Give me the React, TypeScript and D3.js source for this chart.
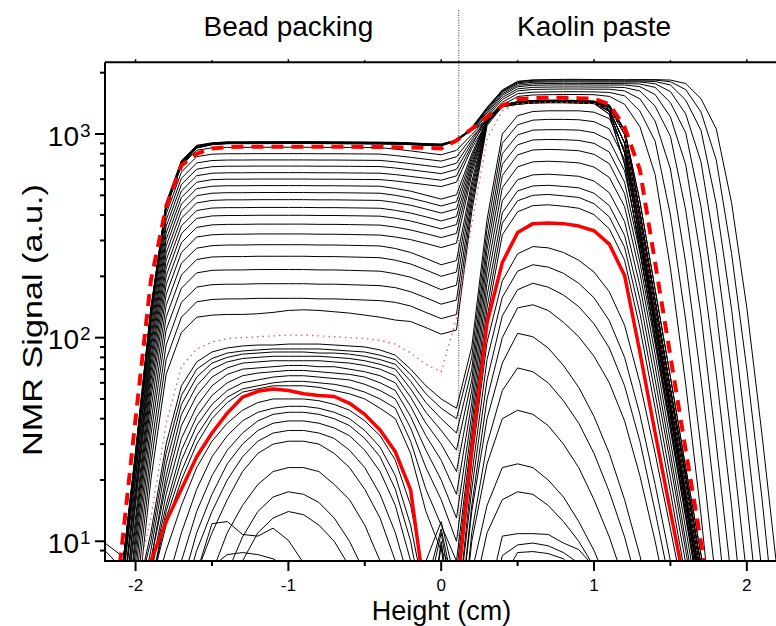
import React from 'react';
import * as d3 from 'd3';

// Height positions (cm) shared by every NMR profile
const HEIGHT_CM = [-2.2,-2.1,-2.0,-1.9,-1.8,-1.7,-1.6,-1.5,-1.4,-1.3,-1.2,-1.1,-1.0,-0.9,-0.8,-0.7,-0.6,-0.5,-0.4,-0.3,-0.2,-0.1,0.0,0.1,0.2,0.3,0.4,0.5,0.6,0.7,0.8,0.9,1.0,1.1,1.2,1.3,1.4,1.5,1.6,1.7,1.8,1.9,2.0,2.1,2.2];

// Early profiles: kaolin paste shrinking, bead packing saturated
const EARLY_PROFILES = [
  [3,6,28,140,460,740,880,905,915,915,916,916,917,917,916,915,914,913,912,910,905,897,893, 935,1075,1350,1645,1815,1845,1850,1855,1855,1850,1850,1848,1850,1850,1840,1770,1490,1060,460,140,33,7],
  [3,6,27,138,455,735,876,902,912,912,913,913,914,914,913,912,911,910,909,907,902,894,890, 934,1072,1343,1638,1803,1835,1840,1843,1843,1840,1840,1838,1840,1840,1806,1652,1284,746,259,70,16,3],
  [3,6,27,137,452,731,873,900,910,910,911,911,912,912,911,910,909,908,907,905,900,892,888, 933,1068,1329,1620,1784,1815,1820,1823,1823,1820,1820,1818,1820,1810,1741,1466,1043,453,138,32,7,1],
  [3,6,26,135,449,727,870,898,908,908,909,909,910,910,909,908,907,906,905,903,898,890,886, 932,1065,1314,1602,1764,1795,1800,1803,1803,1800,1800,1798,1800,1766,1615,1255,730,253,68,15.6,3,1],
  [3,6,26,134,446,723,867,896,906,906,907,907,908,908,907,906,905,904,903,901,896,888,884, 930,1062,1292,1575,1735,1765,1770,1773,1773,1770,1770,1768,1761,1694,1426,1014,440,134,31.6,6.7,1,1],
  [3,6,25,132,443,719,864,894,904,904,905,905,906,906,905,904,903,902,901,899,894,886,882, 929,1058,1270,1549,1705,1735,1740,1743,1743,1740,1740,1740,1708,1562,1214,706,245,66,15,2.8,1,1],
  [3,6,25,131,440,715,861,892,902,902,903,903,904,904,903,902,901,900,899,897,892,884,880, 928,1055,1241,1513,1666,1695,1700,1703,1703,1700,1700,1691,1627,1369,974,423,129,30,6.4,1,1,1],
  [3,6,25,130,437,711,858,890,900,900,901,901,902,902,901,900,899,898,897,895,890,882,878, 927,1052,1212,1477,1627,1655,1660,1663,1663,1660,1660,1628,1489,1157,673,233,63,14.4,2.7,1,1,1],
  [3,6,24,128,434,707,855,888,898,898,899,899,900,900,899,898,897,896,895,893,888,880,876, 926,1048,1175,1433,1578,1605,1610,1613,1613,1610,1601,1540,1297,922,400,122,28.7,6.1,1,1,1,1],
  [3,6,24,127,431,703,852,886,896,896,897,897,898,898,897,896,895,894,893,891,886,878,874, 925,1045,1139,1388,1529,1555,1560,1563,1563,1560,1530,1400,1088,632,219,59,13.5,2.5,1,1,1,1],
];

// Bead packing drying, kaolin paste stable
const BEAD_DRYING_PROFILES = [
  [3,6,26,132,435,699,832,855,860,860,861,861,861,861,860,860,859,858,857,843,826,808,791, 831,993,1180,1385,1440,1460,1465,1465,1460,1450,1345,998,378,139,51,19,6.9,2.5,1,1,1,1],
  [3,5,25,123,404,650,774,796,800,800,801,801,801,801,800,800,799,798,797,784,768,752,736, 773,962,1165,1375,1420,1440,1445,1445,1440,1430,1290,808,306,112,42,15.3,5.6,2,1,1,1,1],
  [2,5,23,115,377,606,721,741,745,745,746,746,746,746,745,745,744,743,742,730,715,700,685, 719,933,1190,1390,1430,1450,1455,1455,1450,1440,1370,1040,414,152,56,21,7.6,2.8,1,1,1,1],
  [2,5,21,107,351,565,672,691,695,695,696,696,696,696,695,695,694,693,692,681,667,653,639, 671,906,1150,1370,1410,1430,1435,1435,1430,1420,1315,902,342,125,47,17,6.3,2.3,1,1,1,1],
  [2,4,20,99,326,525,624,642,645,645,646,646,646,646,645,645,644,643,642,632,619,606,593, 623,878,1200,1395,1440,1460,1465,1465,1460,1450,1390,1050,468,172,64,23,8.6,3.1,1,1,1,1],
  [2,4,18,92,303,488,580,597,600,600,601,601,601,601,600,600,599,598,597,588,576,564,552, 580,851,1140,1360,1400,1420,1425,1425,1420,1410,1250,712,270,99,37,13.5,5,1.8,1,1,1,1],
  [2,4,17,86,282,453,539,554,557,557,558,558,558,558,557,557,556,555,554,540,524,501,479, 503,800,1170,1380,1425,1445,1450,1450,1445,1435,1345,998,378,139,51,19,6.9,2.5,1,1,1,1],
  [2,3,16,79,260,419,498,512,515,515,516,516,516,516,515,515,514,513,512,500,484,464,443, 465,774,1160,1375,1415,1435,1440,1440,1435,1425,1315,902,342,125,47,17,6.3,2.3,1,1,1,1],
  [2,3,15,73,240,386,459,472,475,475,476,476,476,476,475,475,474,473,472,461,447,428,409, 429,748,1185,1390,1435,1455,1460,1460,1455,1445,1370,1040,414,152,56,21,7.6,2.8,1,1,1,1],
  [1,3,13,67,220,354,421,433,435,435,436,436,436,436,435,435,434,433,432,422,409,392,374, 393,721,1145,1365,1405,1425,1430,1430,1425,1415,1290,808,306,112,42,15.3,5.6,2,1,1,1,1],
  [1,3,12,61,201,324,385,396,398,398,399,399,399,399,398,398,397,396,395,386,374,358,342, 359,693,1175,1385,1430,1450,1455,1455,1450,1440,1345,998,378,139,51,19,6.9,2.5,1,1,1,1],
  [1,2,11,55,182,293,348,358,360,360,361,361,361,361,360,360,359,358,357,349,338,324,310, 325,664,1165,1380,1420,1440,1445,1445,1440,1430,1390,1050,468,172,64,23,8.6,3.1,1,1,1,1],
  [1,2,10,50,163,262,312,320,322,322,323,323,323,323,322,322,321,320,319,312,303,290,277, 291,632,1150,1370,1410,1430,1435,1435,1430,1420,1250,712,270,99,37,13.5,5,1.8,1,1,1,1],
  [1,2,9,44,144,232,275,283,285,285,286,286,286,286,285,285,284,283,282,274,262,245,228, 239,582,1160,1380,1425,1445,1450,1450,1445,1435,1315,902,342,125,47,17,6.3,2.3,1,1,1,1],
  [1,2,8,38,126,203,242,249,250,250,251,251,251,251,250,250,249,248,247,240,230,215,200, 210,551,1140,1360,1400,1420,1425,1425,1420,1410,1370,1040,414,152,56,21,7.6,2.8,1,1,1,1],
  [1,1,7,33,109,175,208,214,215,215,216,216,216,216,215,215,214,213,212,206,198,185,172, 181,516,1150,1385,1430,1450,1455,1455,1450,1440,1290,808,306,112,42,15.3,5.6,2,1,1,1,1],
  [1,1,6,28,92,149,177,182,183,183,184,184,184,184,183,183,182,181,180,176,168,157,146, 153,481,1130,1375,1415,1435,1440,1440,1435,1425,1345,998,378,139,51,19,6.9,2.5,1,1,1,1],
  [1,1,5,24,78,126,150,154,155,155,156,156,156,156,155,155,154,153,152,149,143,133,124, 130,448,1120,1380,1420,1440,1445,1445,1440,1430,1315,902,342,125,47,17,6.3,2.3,1,1,1,1],
  [0.4,0.9,4,20,66,106,126,129,130,130,131,133,136,137,136,134,132,129,126,122,120,112,104, 109,415,1100,1365,1405,1425,1430,1430,1425,1415,1370,1040,414,152,56,21,7.6,2.8,1,1,1,1],
];

// Kaolin paste drying (signal above the thick red profile)
const LATE_PROFILES = [
  [2,3,5,11,30,58,76,85,89,91, 92,92,93,93,93,92,91,90,87, 82,70,58,50, 45,90,380,1000,1230,1290,1300,1300,1300,1280,1190,840,340,125,46,17,6,2,1,1,1,1],
  [2,3,5,10,27,52,70,79,84,86, 87,88,88,88,88,87,86,85,82, 78,66,53,45, 40,80,340,900,1110,1170,1180,1180,1175,1150,1060,750,315,118,44,16,5.8,2,1,1,1,1],
  [2,3,4,9,24,47,64,75,80,83, 84,85,85,85,84,84,83,81,78, 74,61,48,40, 34,70,300,800,990,1045,1050,1050,1045,1015,930,660,290,110,41,15,5.5,2,1,1,1,1],
  [1,2,4,8,21,42,58,70,76,79, 80,81,81,81,81,80,79,77,74, 70,56,43,35, 28,62,270,710,885,935,940,938,930,900,815,580,262,102,38,14,5.1,1.8,1,1,1,1],
  [1,2,4,8,19,37,52,64,71,75, 76,77,77,77,77,76,75,73,70, 65,51,38,30, 22,55,240,625,790,835,840,836,828,795,715,510,235,93,35,13,4.7,1.7,1,1,1,1],
  [1,2,3,7,17,32,46,58,66,70, 71,72,73,73,72,72,70,68,65, 60,46,33,25, 17,48,210,545,690,730,735,730,722,688,612,440,208,83,31,11.5,4.2,1.5,1,1,1,1],
  [1,2,3,7,15,28,41,52,60,65, 67,68,69,69,68,67,66,64,60, 55,41,28,20, 13,42,185,470,596,630,635,628,620,588,515,372,180,72,27,10,3.7,1.3,1,1,1,1],
  [1,2,3,6,14,25,37,47,55,60, 62,64,65,65,64,63,62,59,55, 50,36,23,16, 10,37,160,410,525,556,560,553,544,512,445,318,155,62,24,9,3.3,1.2,1,1,1,1],
  [1,2,3,6,13,22,33,43,51,56, 58,60,61,61,60,59,57,54,50, 45,31,18,12, 8,33,140,365,470,500,505,497,488,455,392,278,132,53,20.5,7.8,2.9,1,1,1,1,1],
  [1,2,3,6,12,20,30,40,48,54, 56,58,58,58,57,55,53,50,45, 40,27,14,9, 7,30,125,320,415,445,449,442,432,402,342,240,112,45,17.5,6.6,2.5,1,1,1,1,1],
];

// Final profiles (below the thick red profile)
const FINAL_PROFILES = [
  [1,2,3,5,9,15,23,31,38,44,48,50,50,50,49,47,44,39,33,25,15,6,3, 5,25,95,190,258,280,276,262,240,210,168,115,60,27,11.5,4.8,2,1,1,1,1,1],
  [1,1,2,3,6,11,18,26,33,39,43,45,46,46,45,43,40,35,29,21,12,5,3, 4,21,78,158,212,228,222,207,185,157,121,80,42,19,8,3.3,1.4,1,1,1,1,1],
  [1,1,1,2,4,8,14,21,28,34,39,42,43,43,42,40,37,32,26,18,10,4,2, 4,18,62,128,172,185,177,162,142,117,89,58,31,14,6,2.5,1,1,1,1,1,1],
  [1,1,1,1,3,6,11,17,24,30,35,38,39,39,38,36,33,28,22,15,8,3,2, 3,15,50,100,140,145,136,119,101,81,60,39,21,10,4.3,1.8,1,1,1,1,1,1],
  [1,1,1,1,2,5,9,14,20,26,31,34,35,35,34,32,28,23,17,11,6,2,1, 3,14,40,75,105,101,89,73,57,41,27,16,8.5,4,1.7,1,1,1,1,1,1,1],
  [1,1,1,1,2,4,7,11,16,22,27,30,31,31,30,27,23,18,13,8,4,2,1, 2,11,30,55,71,68,60,49,38,27,17.5,10.5,5.5,2.5,1,1,1,1,1,1,1,1],
  [1,1,1,1,1,2,4,7,11,15,19,22,23,23,22,19,16,12,8,5,2,1,1, 2,10,24,40,44,42,37,30,23,16,10.5,6.3,3.5,1.8,1,1,1,1,1,1,1,1],
  [1,1,1,1,1,1,2,4,7,10.5,14,16.5,17.5,17,15.5,13,10,7,4.5,2.5,1.5,3,10, 3,7,15,23,24,23,20,16.5,12.5,9,6,3.5,2,1,1,1,1,1,1,1,1,1],
  [1,1,1,1,1,1,1,2,5,8,11,13,14,13.5,12,10,7.5,5,3,2,1,3,9.5, 2,5,11,16,17.5,17,15,12.5,10,7.5,5,3,1,1,1,1,1,1,1,1,1,1],
  [1,1,1,1,2,4,7,12.2,12.5,10.8,10.6,11.6,10.1,7.8,5,3,2,1,1,1,2,5,11, 4,2,5,10.6,10.9,10.9,10.8,9.8,9.1,7.5,6,4,1,1,1,1,1,1,1,1,1,1],
  [9.8,8.6,5,2,1,2,5,7.5,8.6,8.8,8.6,8.2,7.4,6,4,2,1,1,1,2,4,6,11.5, 5,2,4,8.5,9.6,9.8,9.5,8.8,7.8,6,4,1,1,1,1,1,1,1,1,1,1,1],
  [9,7.5,4,2,1,1,2,4,6,7,7.5,7.8,7.6,7,5,3,1,1,1,1,3,8,12.5, 6,3,3,6.5,8.8,8.9,8.7,8.2,7,5,1,1,1,1,1,1,1,1,1,1,1,1],
];

// Highlighted profiles
const RED_DASHED = [2,8,40,190,440,700,800,850,862,865,866,867,867,867,866,866,865,864,863,860,858,855,850, 930,1060,1210,1380,1480,1500,1505,1505,1500,1490,1400,1080,668,233,81,28,9.9,3.4,1,1,1,1];
const RED_DOTTED = [2,4,6,13,38,72,88,95,99,100,101,102,103,103,102,101,100,99,97,93,84,74,68, 125,360,945,1300,1410,1425,1430,1430,1425,1410,1330,1000,380,140,51,19,7,2.5,1,1,1,1];
const RED_SOLID = [1,2,4,8,12.5,18,26,34,42.6,51,54.5,56,55,53,52,51.4,47.6,42,35.2,27.5,17.9,5,2, 5.4,28,118,234,328,363,366,363,353,335,288,202,85,34,14,5.8,2.3,1,1,1,1,1];

const X_MAJOR = [-2, -1, 0, 1, 2];
const X_MINOR = [-1.5, -0.5, 0.5, 1.5];
const Y_DECADES = [10, 100, 1000];
const Y_EXPONENTS = ['1', '2', '3'];
const REGION_TITLES = ['Bead packing', 'Kaolin paste'];
const REGION_CENTERS = [-1, 1];
const INTERFACE_CM = 0.115;
const X_DOMAIN = [-2.2, 2.2];
const Y_DOMAIN = [8, 2250];

const FONT = '"Liberation Sans", Arial, Helvetica, sans-serif';

export default function App() {
  const left = 105, right = 777.4, top = 62.3, bottom = 561;
  const x = d3.scaleLinear().domain(X_DOMAIN).range([left, right]);
  const y = d3.scaleLog().domain(Y_DOMAIN).range([bottom, top]);
  const line = d3.line<number>()
    .x((_, i) => x(HEIGHT_CM[i]))
    .y((d) => y(Math.max(d, 0.3)));

  const minorY: number[] = [];
  [1, 10, 100, 1000].forEach((dec) => {
    for (let k = 2; k <= 9; k++) {
      const v = k * dec;
      if (v > Y_DOMAIN[0] && v <= Y_DOMAIN[1]) minorY.push(v);
    }
  });

  const blacks = [...EARLY_PROFILES, ...BEAD_DRYING_PROFILES, ...LATE_PROFILES, ...FINAL_PROFILES];

  return (
    <svg width={776} height={626} style={{ position: 'absolute', left: 0, top: 0, background: '#fff' }} fontFamily={FONT}>
      <defs>
        <clipPath id="plot">
          <rect x={left} y={top} width={right - left} height={bottom - top} />
        </clipPath>
      </defs>
      <rect x={0} y={0} width={776} height={626} fill="#fff" />
      <g clipPath="url(#plot)">
        {blacks.map((p, i) => (
          <path key={i} d={line(p) || ''} fill="none" stroke="#000" strokeWidth={1} strokeLinejoin="round" />
        ))}
        <path d={line(RED_DOTTED) || ''} fill="none" stroke="#ff4d4d" strokeWidth={1.3} strokeDasharray="1.5,4" />
        <path d={line(RED_DASHED) || ''} fill="none" stroke="#ff0000" strokeWidth={4} strokeDasharray="12,8" />
        <path d={line(RED_SOLID) || ''} fill="none" stroke="#ff0000" strokeWidth={3.5} strokeLinejoin="round" />
      </g>
      {/* interface marker */}
      <line x1={x(INTERFACE_CM)} x2={x(INTERFACE_CM)} y1={10} y2={bottom} stroke="#000" strokeWidth={1} strokeDasharray="1,1.5" opacity={0.8} />
      {/* frame */}
      <line x1={left} x2={776} y1={top} y2={top} stroke="#000" strokeWidth={2} />
      <line x1={left} x2={left} y1={top} y2={bottom} stroke="#000" strokeWidth={2} />
      <line x1={left - 1} x2={776} y1={bottom} y2={bottom} stroke="#000" strokeWidth={2} />
      {/* x ticks */}
      {X_MAJOR.map((t) => (
        <g key={'xM' + t}>
          <line x1={x(t)} x2={x(t)} y1={bottom} y2={bottom + 10} stroke="#000" strokeWidth={2} />
          <line x1={x(t)} x2={x(t)} y1={top} y2={top - 3} stroke="#000" strokeWidth={1.5} />
          <text x={x(t)} y={591} textAnchor="middle" fontSize={17}>{t < 0 ? '-' + Math.abs(t) : String(t)}</text>
        </g>
      ))}
      {X_MINOR.map((t) => (
        <g key={'xm' + t}>
          <line x1={x(t)} x2={x(t)} y1={bottom} y2={bottom + 5} stroke="#000" strokeWidth={2} />
          <line x1={x(t)} x2={x(t)} y1={top} y2={top - 2} stroke="#000" strokeWidth={1.5} />
        </g>
      ))}
      {/* y ticks */}
      {Y_DECADES.map((v, i) => (
        <g key={'yM' + v}>
          <line x1={left - 10} x2={left} y1={y(v)} y2={y(v)} stroke="#000" strokeWidth={2} />
          <text x={79} y={y(v) + 11.5} textAnchor="end" fontSize={28}>10</text>
          <text x={80} y={y(v) + 2.5} fontSize={19}>{Y_EXPONENTS[i]}</text>
        </g>
      ))}
      {minorY.map((v) => (
        <line key={'ym' + v} x1={left - 5} x2={left} y1={y(v)} y2={y(v)} stroke="#000" strokeWidth={2} />
      ))}
      {/* axis titles */}
      <text x={441.5} y={619.5} textAnchor="middle" fontSize={27}>Height (cm)</text>
      <text transform="translate(41.5,320) rotate(-90)" textAnchor="middle" fontSize={28} textLength={272} lengthAdjust="spacingAndGlyphs">NMR Signal (a.u.)</text>
      {REGION_TITLES.map((t, i) => (
        <text key={t} x={x(REGION_CENTERS[i])} y={36} textAnchor="middle" fontSize={28}>{t}</text>
      ))}
    </svg>
  );
}
